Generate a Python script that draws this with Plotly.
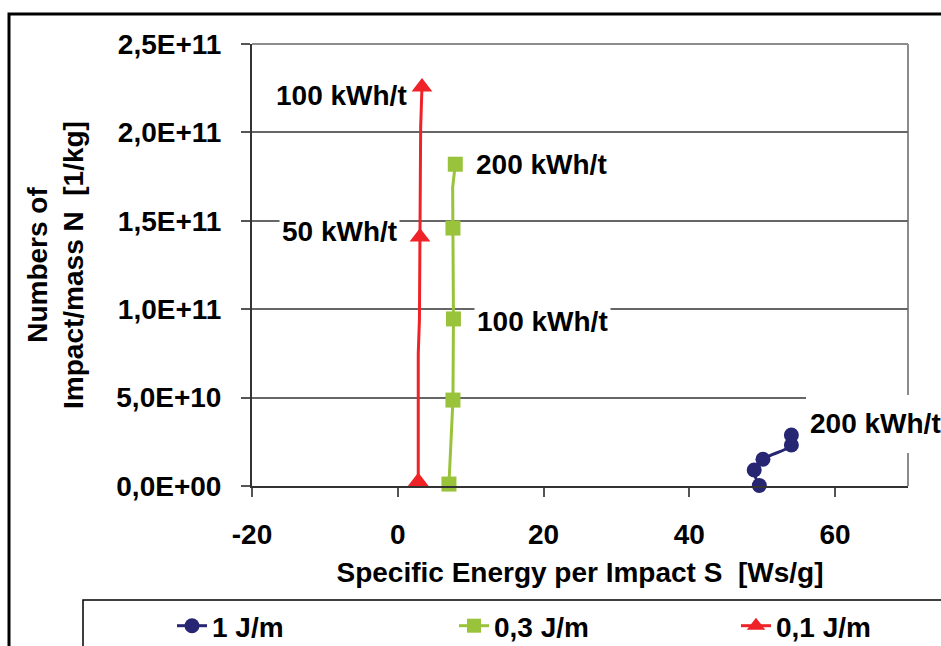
import plotly.graph_objects as go

# ---- data ----
# 1 J/m series
blue_s = [49.6, 48.9, 50.1, 54.0, 54.0]
blue_n = [3e8, 9.05e9, 1.51e10, 2.32e10, 2.88e10]
# 0,3 J/m series (measured points)
green_s = [7.02, 7.57, 7.64, 7.57, 7.89]
green_n = [1.1e9, 4.86e10, 9.45e10, 1.459e11, 1.82e11]
# 0,3 J/m line vertices
green_path_s = [7.02, 7.57, 7.64, 7.57, 7.53, 7.89]
green_path_n = [1.1e9, 4.86e10, 9.45e10, 1.459e11, 1.69e11, 1.82e11]
# 0,1 J/m series (measured points)
red_s = [2.81, 3.05, 3.32]
red_n = [2.5e9, 1.408e11, 2.257e11]
# 0,1 J/m line vertices
red_path_s = [2.81, 2.81, 2.97, 3.05, 3.14, 3.32]
red_path_n = [2.5e9, 7.5e10, 9.4e10, 1.408e11, 2.03e11, 2.257e11]

series_names = ["1 J/m", "0,3 J/m", "0,1 J/m"]

y_tickvals = [0, 5e10, 1e11, 1.5e11, 2e11, 2.5e11]
y_ticktext = ["0,0E+00", "5,0E+10", "1,0E+11", "1,5E+11", "2,0E+11", "2,5E+11"]
x_tickvals = [-20, 0, 20, 40, 60]
x_ticktext = ["-20", "0", "20", "40", "60"]

# labels: (text, s, n, anchor)
labels = [
    ("100 kWh/t", 1.67, 2.206e11, "right"),
    ("50 kWh/t", 0.3, 1.442e11, "right"),
    ("200 kWh/t", 10.3, 1.816e11, "left"),
    ("100 kWh/t", 10.45, 9.28e10, "left"),
    ("200 kWh/t", 56.2, 3.56e10, "left"),
]

# ---- style ----
FONT = "Liberation Sans, Arial, sans-serif"
BLUE = "#262673"
GREEN = "#99C33A"
RED = "#EE2227"

fig = go.Figure()

# blue (smoothed line with markers)
fig.add_trace(go.Scatter(x=blue_s, y=blue_n, mode="lines+markers",
                         line=dict(color=BLUE, width=3, shape="spline"),
                         marker=dict(symbol="circle", size=15, color=BLUE),
                         cliponaxis=False, showlegend=False))
# green
fig.add_trace(go.Scatter(x=green_path_s, y=green_path_n, mode="lines",
                         line=dict(color=GREEN, width=3),
                         cliponaxis=False, showlegend=False))
fig.add_trace(go.Scatter(x=green_s, y=green_n, mode="markers",
                         marker=dict(symbol="square", size=15, color=GREEN),
                         cliponaxis=False, showlegend=False))
# red
fig.add_trace(go.Scatter(x=red_path_s, y=red_path_n, mode="lines",
                         line=dict(color=RED, width=3),
                         cliponaxis=False, showlegend=False))
fig.add_trace(go.Scatter(x=red_s, y=red_n, mode="markers",
                         marker=dict(symbol="triangle-up", size=18, color=RED),
                         cliponaxis=False, showlegend=False))

# legend entries
for name, col, sym, sz in zip(series_names, [BLUE, GREEN, RED],
                              ["circle", "square", "triangle-up"], [15, 14, 16]):
    fig.add_trace(go.Scatter(x=[None], y=[None], mode="lines+markers", name=name,
                             line=dict(color=col, width=3),
                             marker=dict(symbol=sym, size=sz, color=col)))

for txt, s, n, anc in labels:
    fig.add_annotation(x=s, y=n, xref="x", yref="y", text=txt, showarrow=False,
                       xanchor=anc, yanchor="middle", bgcolor="white", borderpad=2,
                       font=dict(family=FONT, size=28, color="black", weight="bold"))

L, R, T, B = 252, 33, 44, 160
W, H = 941, 646
PW, PH = W - L - R, H - T - B


def px(xp):
    return (xp - L) / PW


def py(yp):
    return (H - B - yp) / PH


shapes = [
    # plot area top & right border (gray)
    dict(type="line", xref="paper", yref="paper", x0=0, x1=1, y0=1, y1=1,
         line=dict(color="#8c8c8c", width=2), layer="below"),
    dict(type="line", xref="paper", yref="paper", x0=1, x1=1, y0=0, y1=1,
         line=dict(color="#8c8c8c", width=2), layer="below"),
    # white box behind the blue label
    dict(type="rect", xref="paper", yref="paper", x0=px(806), x1=px(960),
         y0=py(453), y1=py(395), fillcolor="white", line=dict(width=0), layer="above"),
    # outer chart frame
    dict(type="rect", xref="paper", yref="paper", x0=px(9), x1=px(965),
         y0=py(680), y1=py(14), line=dict(color="black", width=3), layer="above"),
    # legend box
    dict(type="rect", xref="paper", yref="paper", x0=px(83), x1=px(965),
         y0=py(680), y1=py(600), line=dict(color="black", width=1.5), layer="above"),
]

fig.update_layout(
    width=W, height=H,
    margin=dict(l=L, r=R, t=T, b=B, pad=0, autoexpand=False),
    paper_bgcolor="white", plot_bgcolor="white",
    font=dict(family=FONT, size=28, color="black", weight="bold"),
    shapes=shapes,
    legend=dict(orientation="h", x=px(172), y=py(601), xanchor="left", yanchor="top",
                font=dict(family=FONT, size=28, color="black", weight="bold"),
                bgcolor="rgba(0,0,0,0)", borderwidth=0, entrywidth=237,
                entrywidthmode="pixels", itemclick=False, itemdoubleclick=False,
                tracegroupgap=0),
    xaxis=dict(range=[-20, 70], tickvals=x_tickvals, ticktext=x_ticktext,
               showgrid=False, zeroline=False, showline=True, linecolor="#333333",
               linewidth=2, ticks="outside", ticklen=9, tickwidth=1.5, tickcolor="#555555",
               ticklabelstandoff=13, automargin=False,
               tickfont=dict(family=FONT, size=28, color="black", weight="bold"),
               title=dict(text="Specific Energy per Impact S \u00a0[Ws/g]", standoff=14,
                          font=dict(family=FONT, size=28, color="black", weight="bold"))),
    yaxis=dict(range=[0, 2.5e11], tickvals=y_tickvals, ticktext=y_ticktext,
               showgrid=True, gridcolor="#666666", gridwidth=1.5, zeroline=False,
               showline=True, linecolor="#333333", linewidth=2,
               ticks="outside", ticklen=9, tickwidth=1.5, tickcolor="#555555",
               ticklabelstandoff=14, automargin=False,
               tickfont=dict(family=FONT, size=28, color="black", weight="bold"),
               title=dict(text="Numbers of<br>Impact/mass N \u00a0[1/kg]", standoff=24,
                          font=dict(family=FONT, size=28, color="black", weight="bold"))),
)

fig.write_html("out.html")
